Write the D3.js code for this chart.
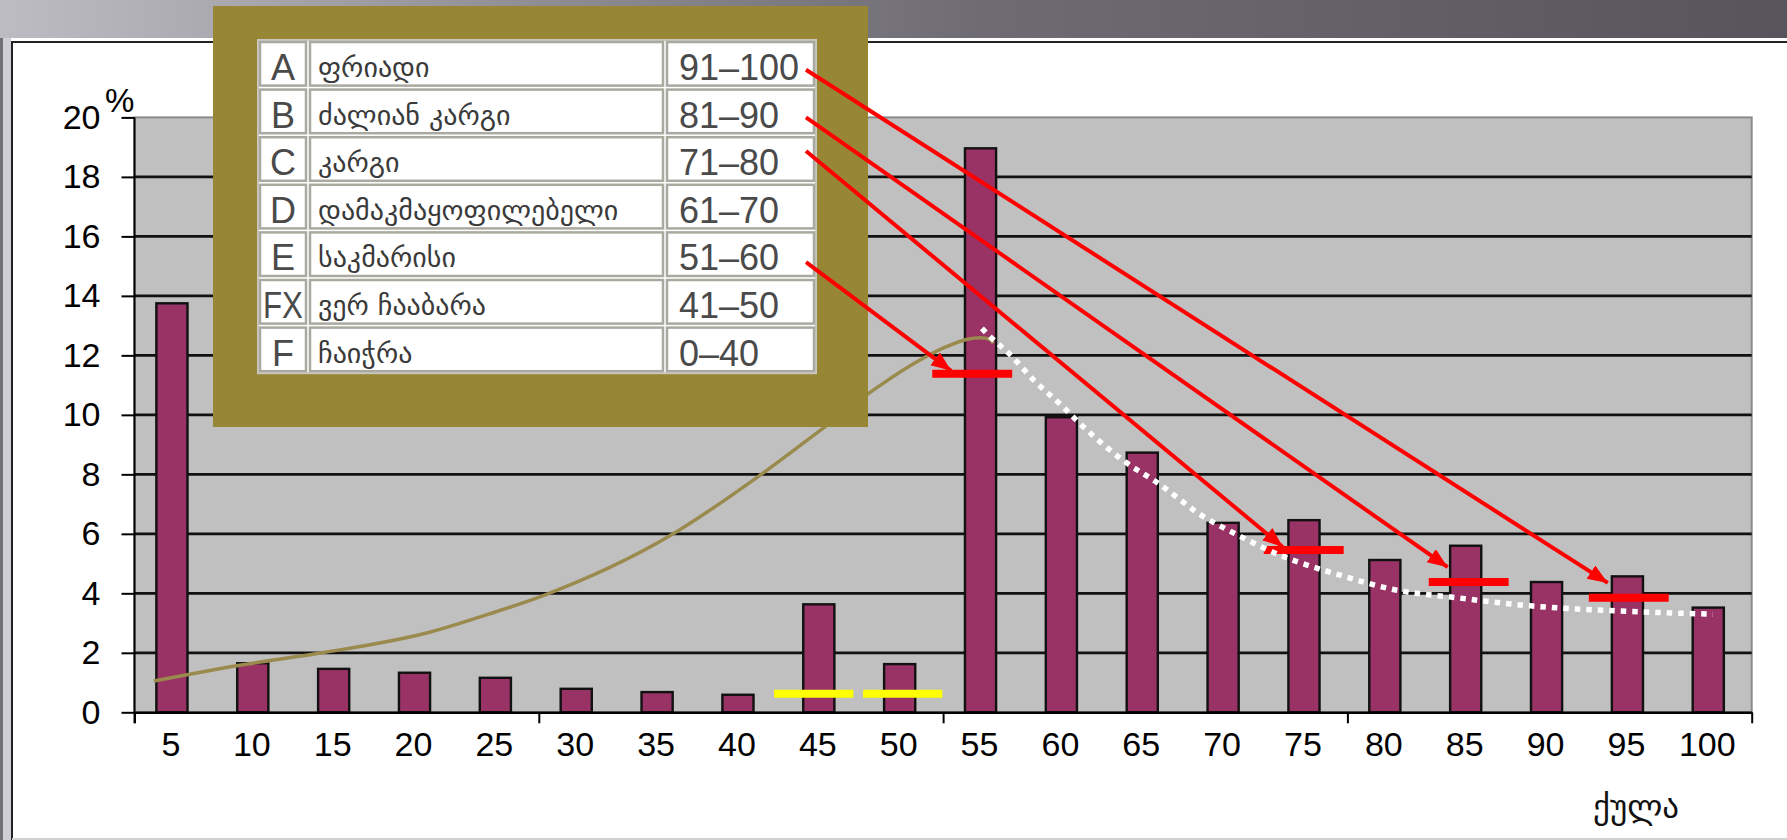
<!DOCTYPE html>
<html>
<head>
<meta charset="utf-8" />
<title>Score distribution</title>
<script src="https://d3js.org/d3.v7.min.js"></script>
<style>
html, body { margin: 0; padding: 0; }
body { width: 1787px; height: 840px; overflow: hidden; background: #fff; }
svg { display: block; }
.tick text { font-family: "Liberation Sans", Arial, sans-serif; fill: #000; }
.geo { font-family: "DejaVu Sans", "Noto Sans", sans-serif; }
</style>
</head>
<body>
<div id="chart"></div>
<script>
// score groups on the x axis
const categories = [5, 10, 15, 20, 25, 30, 35, 40, 45, 50, 55, 60, 65, 70, 75, 80, 85, 90, 95, 100];
// share of students, %
const percents = [13.75, 1.65, 1.46, 1.33, 1.16, 0.79, 0.68, 0.59, 3.63, 1.62,
                  18.96, 9.92, 8.73, 6.37, 6.46, 5.12, 5.6, 4.38, 4.57, 3.52];
const yTicks = [0, 2, 4, 6, 8, 10, 12, 14, 16, 18, 20];

// rising trend (score, %)
const trendLow = [[3.7, 1.05], [9.1, 1.59], [14.1, 2.0], [20.8, 2.7], [24.4, 3.3], [27.9, 3.95],
                  [35.5, 5.9], [41.0, 7.9], [44.9, 9.48], [47.9, 10.72], [51.1, 11.85],
                  [52.7, 12.29], [54.0, 12.54], [54.8, 12.59], [55.4, 12.54], [55.6, 12.4]];
// falling trend (score, %)
const trendHigh = [[54.9, 12.91], [55.4, 12.63], [56.6, 12.05], [58.1, 11.17], [59.8, 10.33],
                   [60.9, 9.74], [63.6, 8.48], [65.8, 7.7], [68.6, 6.58], [70.5, 6.02],
                   [73.3, 5.29], [77.0, 4.62], [80.5, 4.11], [84.3, 3.85], [88.8, 3.58],
                   [92.9, 3.44], [97.0, 3.35], [100.1, 3.3]];

// grading table
const grades = ['A', 'B', 'C', 'D', 'E', 'FX', 'F'];
const gradeNames = ['ფრიადი', 'ძალიან კარგი', 'კარგი', 'დამაკმაყოფილებელი', 'საკმარისი', 'ვერ ჩააბარა', 'ჩაიჭრა'];
const gradeRanges = ['91–100', '81–90', '71–80', '61–70', '51–60', '41–50', '0–40'];

// red marks + arrows (grade -> score position, %)
const arrowGrades = ['A', 'B', 'C', 'E'];
const markScores = [94.9, 85.0, 74.8, 54.3];
const markValues = [3.85, 4.38, 5.46, 11.38];
const arrowTipValues = [4.35, 4.88, 5.56, 11.48];
// yellow marks
const yellowScores = [44.5, 50.0];
const yellowValues = [0.62, 0.62];

const W = 1787, H = 840;
const plot = { left: 134.5, right: 1751.7, top: 117.4, bottom: 712.3 };

const svg = d3.select('#chart').append('svg').attr('width', W).attr('height', H);
const defs = svg.append('defs');

const grad = defs.append('linearGradient').attr('id', 'band').attr('x1', 0).attr('x2', 1).attr('y1', 0).attr('y2', 0);
[[0, '#bdbcc2'], [0.3, '#908e95'], [0.55, '#6e6c72'], [1, '#57555b']].forEach(s => {
    grad.append('stop').attr('offset', s[0]).attr('stop-color', s[1]);
});

defs.append('marker').attr('id', 'head')
    .attr('markerUnits', 'userSpaceOnUse')
    .attr('markerWidth', 24).attr('markerHeight', 20)
    .attr('refX', 20).attr('refY', 8).attr('orient', 'auto')
    .append('path').attr('d', 'M0,0 L20,8 L0,16 Z').attr('fill', '#ff0000');

// page background
svg.append('rect').attr('width', W).attr('height', H).attr('fill', '#fff');
svg.append('rect').attr('width', W).attr('height', 38).attr('fill', 'url(#band)');
svg.append('rect').attr('x', 0).attr('y', 38).attr('width', 11).attr('height', H - 38).attr('fill', '#cfcfd3');
svg.append('rect').attr('x', 0).attr('y', 38).attr('width', 3).attr('height', H - 38).attr('fill', '#707076');
svg.append('line').attr('x1', 12).attr('x2', W).attr('y1', 42).attr('y2', 42).attr('stroke', '#222').attr('stroke-width', 2);
svg.append('line').attr('x1', 12).attr('x2', 12).attr('y1', 41).attr('y2', H).attr('stroke', '#222').attr('stroke-width', 2);
svg.append('line').attr('x1', 12).attr('x2', W).attr('y1', 839).attr('y2', 839).attr('stroke', '#d0d0d0').attr('stroke-width', 2);

const x = d3.scaleBand().domain(categories).range([plot.left, plot.right]).padding(0);
const xs = d3.scaleLinear().domain([2.5, 102.5]).range([plot.left, plot.right]);
const y = d3.scaleLinear().domain([0, 20]).range([plot.bottom, plot.top]);

// plot area
svg.append('rect').attr('x', plot.left).attr('y', plot.top)
    .attr('width', plot.right - plot.left).attr('height', plot.bottom - plot.top)
    .attr('fill', '#c0c0c0').attr('stroke', '#8a8a8a').attr('stroke-width', 2);

svg.append('g').selectAll('line').data(yTicks.filter(v => v > 0 && v < 20)).enter()
    .append('line')
    .attr('x1', plot.left).attr('x2', plot.right)
    .attr('y1', d => y(d)).attr('y2', d => y(d))
    .attr('stroke', '#111').attr('stroke-width', 2.8);

// bars
const bw = x.bandwidth() * 0.385;
svg.append('g').selectAll('rect').data(categories).enter()
    .append('rect')
    .attr('x', (d) => x(d) + x.bandwidth() / 2 - bw / 2 - 3)
    .attr('y', (d, i) => y(percents[i]))
    .attr('width', bw)
    .attr('height', (d, i) => y(0) - y(percents[i]))
    .attr('fill', '#993366').attr('stroke', '#111').attr('stroke-width', 2.4);

// axes
const yAxis = svg.append('g').attr('transform', 'translate(' + plot.left + ',0)')
    .call(d3.axisLeft(y).tickValues(yTicks).tickSize(13).tickPadding(21).tickSizeOuter(0));
yAxis.select('.domain').remove();
yAxis.selectAll('.tick line').attr('stroke', '#000').attr('stroke-width', 2);
yAxis.selectAll('.tick text').attr('font-size', 34);
yAxis.append('line').attr('x1', 0).attr('x2', 0).attr('y1', plot.top).attr('y2', plot.bottom + 11)
    .attr('stroke', '#000').attr('stroke-width', 2);

const xAxis = svg.append('g').attr('transform', 'translate(0,' + plot.bottom + ')')
    .call(d3.axisBottom(x).tickSize(0).tickPadding(20));
xAxis.select('.domain').attr('stroke', '#000').attr('stroke-width', 2.5);
xAxis.selectAll('.tick text').attr('font-size', 34).attr('dx', -4);

const xTicks = svg.append('g').attr('transform', 'translate(0,' + plot.bottom + ')')
    .call(d3.axisBottom(xs).tickValues([2.5, 27.5, 52.5, 77.5, 102.5]).tickSize(11).tickFormat(''));
xTicks.select('.domain').remove();
xTicks.selectAll('.tick line').attr('stroke', '#000').attr('stroke-width', 2);

svg.append('text').attr('x', 105).attr('y', 112)
    .attr('font-family', '"Liberation Sans", Arial, sans-serif').attr('font-size', 33)
    .text('%');

svg.append('text').attr('class', 'geo').attr('x', 1636).attr('y', 818)
    .attr('text-anchor', 'middle').attr('font-size', 33).attr('fill', '#111')
    .text('ქულა');

// trends
const line = d3.line().x(d => xs(d[0])).y(d => y(d[1])).curve(d3.curveMonotoneX);
svg.append('path').datum(trendLow).attr('d', line)
    .attr('fill', 'none').attr('stroke', '#9b8a4d').attr('stroke-width', 3.5);

// yellow marks
svg.append('g').selectAll('line').data(yellowScores).enter()
    .append('line')
    .attr('x1', d => xs(d - 2.45)).attr('x2', d => xs(d + 2.45))
    .attr('y1', (d, i) => y(yellowValues[i])).attr('y2', (d, i) => y(yellowValues[i]))
    .attr('stroke', '#ffff00').attr('stroke-width', 8);

// red marks
svg.append('g').selectAll('line').data(markScores).enter()
    .append('line')
    .attr('x1', d => xs(d - 2.47)).attr('x2', d => xs(d + 2.47))
    .attr('y1', (d, i) => y(markValues[i])).attr('y2', (d, i) => y(markValues[i]))
    .attr('stroke', '#ff0000').attr('stroke-width', 8);

svg.append('path').datum(trendHigh).attr('d', line)
    .attr('fill', 'none').attr('stroke', '#ffffff').attr('stroke-width', 5.5)
    .attr('stroke-dasharray', '5.5,6');

// grading table on olive card
const card = { x: 213, y: 6, w: 655, h: 421 };
svg.append('rect').attr('x', card.x).attr('y', card.y).attr('width', card.w).attr('height', card.h)
    .attr('fill', '#978735');

const tbl = { x: 258, y: 40, rowH: 47.6, cols: [0, 50, 407, 558] };
const table = svg.append('g').attr('transform', 'translate(' + tbl.x + ',' + tbl.y + ')');
table.append('rect').attr('width', tbl.cols[3]).attr('height', tbl.rowH * grades.length)
    .attr('fill', '#fff').attr('stroke', '#c8c8c0').attr('stroke-width', 2);

const rows = table.selectAll('g.row').data(grades).enter()
    .append('g').attr('class', 'row')
    .attr('transform', (d, i) => 'translate(0,' + (i * tbl.rowH) + ')');

[0, 1, 2].forEach(c => {
    rows.append('rect')
        .attr('x', tbl.cols[c] + 2).attr('y', 2)
        .attr('width', tbl.cols[c + 1] - tbl.cols[c] - 4).attr('height', tbl.rowH - 4)
        .attr('fill', '#fff').attr('stroke', '#a9a99f').attr('stroke-width', 2.5);
});

rows.append('text')
    .attr('x', 25).attr('y', 40).attr('text-anchor', 'middle')
    .attr('font-family', '"Liberation Sans", Arial, sans-serif').attr('font-size', 36).attr('fill', '#4a4a4a')
    .attr('textLength', d => d.length > 1 ? 40 : null)
    .attr('lengthAdjust', 'spacingAndGlyphs')
    .text(d => d);

rows.append('text').attr('class', 'geo')
    .attr('x', 60).attr('y', 37)
    .attr('font-size', 28).attr('fill', '#3a3a3a')
    .text((d, i) => gradeNames[i]);

rows.append('text')
    .attr('x', 421).attr('y', 40)
    .attr('font-family', '"Liberation Sans", Arial, sans-serif').attr('font-size', 36).attr('fill', '#4a4a4a')
    .text((d, i) => gradeRanges[i]);

// arrows from table rows to the marks
const startDy = [6, 6, -8, 8];
svg.append('g').selectAll('line').data(arrowGrades).enter()
    .append('line')
    .attr('x1', tbl.x + tbl.cols[3] - 10)
    .attr('y1', (d, i) => tbl.y + (grades.indexOf(d) + 0.5) * tbl.rowH + startDy[i])
    .attr('x2', (d, i) => xs(markScores[i] - 1.3))
    .attr('y2', (d, i) => y(arrowTipValues[i]))
    .attr('stroke', '#ff0000').attr('stroke-width', 4)
    .attr('marker-end', 'url(#head)');
</script>
</body>
</html>
